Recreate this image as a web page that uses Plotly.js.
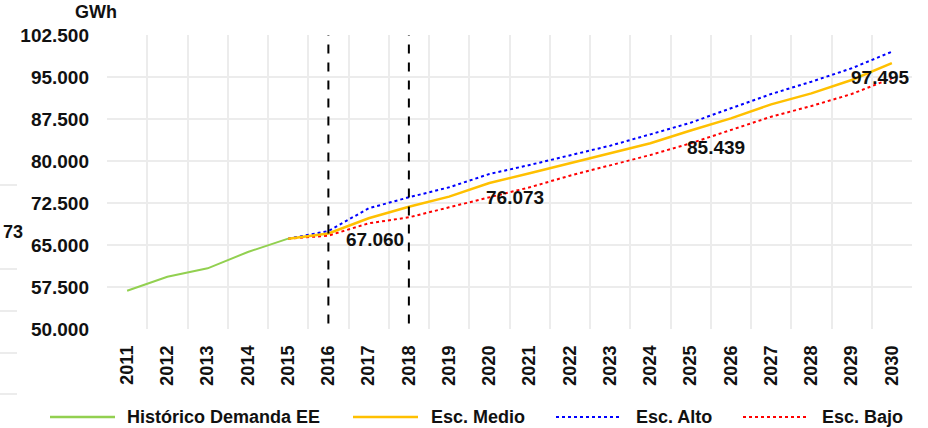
<!DOCTYPE html>
<html>
<head>
<meta charset="utf-8">
<script src="https://cdn.plot.ly/plotly-3.0.1.min.js"></script>
<style>html,body{margin:0;padding:0;background:#ffffff;}#chart{width:928px;height:428px;}</style>
</head>
<body>
<div id="chart"></div>
<script>
var years = ['2011','2012','2013','2014','2015','2016','2017','2018','2019','2020','2021','2022','2023','2024','2025','2026','2027','2028','2029','2030'];
var histYears = ['2011','2012','2013','2014','2015'];
var historico = [56840, 59340, 60830, 63750, 66130];
var escYears = ['2015','2016','2017','2018','2019','2020','2021','2022','2023','2024','2025','2026','2027','2028','2029','2030'];
var escMedio = [66130, 67060, 69770, 71840, 73630, 76073, 77800, 79590, 81370, 83160, 85439, 87620, 90120, 92080, 94460, 97495];
var escAlto  = [66130, 67500, 71550, 73520, 75300, 77680, 79290, 80950, 82730, 84760, 86840, 89410, 91960, 94160, 96550, 99520];
var escBajo  = [66130, 66670, 68870, 69940, 71730, 73520, 75300, 77380, 79160, 81070, 83160, 85540, 87910, 89820, 91960, 94770];
var labelYears = ['2016','2020','2025','2030'];
var markerYears = ['2016','2018'];
var seriesNames = ['Histórico Demanda EE','Esc. Medio','Esc. Alto','Esc. Bajo'];
var yTickVals = [50000, 57500, 65000, 72500, 80000, 87500, 95000, 102500];

function fmt(v){ return String(Math.round(v)).replace(/\B(?=(\d{3})+(?!\d))/g, '.'); }
function idx(yr){ return years.indexOf(yr); }

var FONT = 'Liberation Sans, Arial, sans-serif';
var colors = ['#92d050','#ffc000','#0000ff','#ff0000'];

var traces = [
  {x: histYears.map(idx), y: historico, type:'scatter', mode:'lines', name: seriesNames[0], line:{color:colors[0], width:2}},
  {x: escYears.map(idx), y: escBajo, type:'scatter', mode:'lines', name: seriesNames[3], line:{color:colors[3], width:2, dash:'dot'}},
  {x: escYears.map(idx), y: escAlto, type:'scatter', mode:'lines', name: seriesNames[2], line:{color:colors[2], width:2, dash:'dot'}},
  {x: escYears.map(idx), y: escMedio, type:'scatter', mode:'lines', name: seriesNames[1], line:{color:colors[1], width:2.5}}
];

var labelOffsets = [
  {xanchor:'left', xshift:16, yshift:-6},
  {xanchor:'left', xshift:-5, yshift:-15},
  {xanchor:'left', xshift:-6, yshift:-17},
  {xanchor:'right', xshift:20, yshift:-14}
];

var annotations = labelYears.map(function(yr, i){
  var v = escMedio[escYears.indexOf(yr)];
  var o = labelOffsets[i];
  return {x: idx(yr), y: v, xref:'x', yref:'y', text: fmt(v), showarrow:false,
    xanchor:o.xanchor, yanchor:'middle', xshift:o.xshift, yshift:o.yshift,
    font:{family:FONT, size:19, color:'#111111', weight:'bold'}};
});

annotations.push({xref:'paper', yref:'paper', x:(96-107)/805, y:1.0, yshift:11, xanchor:'center', yanchor:'bottom',
  text:'GWh', showarrow:false, font:{family:FONT, size:18, color:'#111111', weight:'bold'}});
annotations.push({xref:'paper', yref:'paper', x:(1-107)/805, y:(329-232)/294, xanchor:'left', yanchor:'middle',
  text:'73', showarrow:false, font:{family:FONT, size:18, color:'#111111', weight:'bold'}});

var legendSpec = [
  {x0:50, x1:115, tx:125, dash:'solid', w:2.5},
  {x0:353, x1:418, tx:429, dash:'solid', w:2.5},
  {x0:556, x1:621, tx:634, dash:'dot', w:2},
  {x0:743, x1:808, tx:820, dash:'dot', w:2}
];
var legendY = 417;
function px2paperX(p){ return (p-107)/805; }
function px2paperY(p){ return (329-p)/294; }

var shapes = [];
markerYears.forEach(function(yr){
  shapes.push({type:'line', xref:'x', yref:'y', x0:idx(yr), x1:idx(yr), y0:51000, y1:102500,
    line:{color:'#000000', width:2, dash:'dash'}});
});
legendSpec.forEach(function(s, i){
  shapes.push({type:'line', xref:'paper', yref:'paper', x0:px2paperX(s.x0), x1:px2paperX(s.x1),
    y0:px2paperY(legendY), y1:px2paperY(legendY), line:{color:colors[i], width:s.w, dash:s.dash}});
  annotations.push({xref:'paper', yref:'paper', x:px2paperX(s.tx), y:px2paperY(legendY), xanchor:'left', yanchor:'middle',
    text:seriesNames[i], showarrow:false, font:{family:FONT, size:18, color:'#111111', weight:'bold'}});
});
[185, 269, 311, 353, 394].forEach(function(p){
  shapes.push({type:'line', xref:'paper', yref:'paper', x0:px2paperX(0), x1:px2paperX(17),
    y0:px2paperY(p), y1:px2paperY(p), line:{color:'#e6e6e6', width:1.5}});
});

var layout = {
  width:928, height:428,
  margin:{l:107, r:16, t:35, b:99, pad:0},
  paper_bgcolor:'#ffffff', plot_bgcolor:'#ffffff',
  showlegend:false,
  separators:',.',
  font:{family:FONT, color:'#111111'},
  xaxis:{type:'linear', range:[-0.5, 19.5],
    tickvals:years.map(idx), ticktext:years,
    showgrid:false, zeroline:false,
    ticks:'', tickangle:-90, ticklabelstandoff:12,
    tickfont:{family:FONT, size:18, color:'#111111', weight:'bold'},
    showline:false, fixedrange:true,
    minor:{tickvals:years.map(function(y){return idx(y)-0.5;}).concat([years.length-0.5]), showgrid:true, gridcolor:'#ececec', gridwidth:2, ticks:''}},
  yaxis:{range:[50000, 102500], tickvals:yTickVals, tickformat:',d',
    showgrid:true, gridcolor:'#ececec', gridwidth:2, zeroline:false,
    ticks:'', ticklabelstandoff:17,
    tickfont:{family:FONT, size:19, color:'#111111', weight:'bold'},
    showline:false, fixedrange:true},
  shapes:shapes,
  annotations:annotations
};

Plotly.newPlot('chart', traces, layout, {displayModeBar:false, staticPlot:true});
</script>
</body>
</html>
